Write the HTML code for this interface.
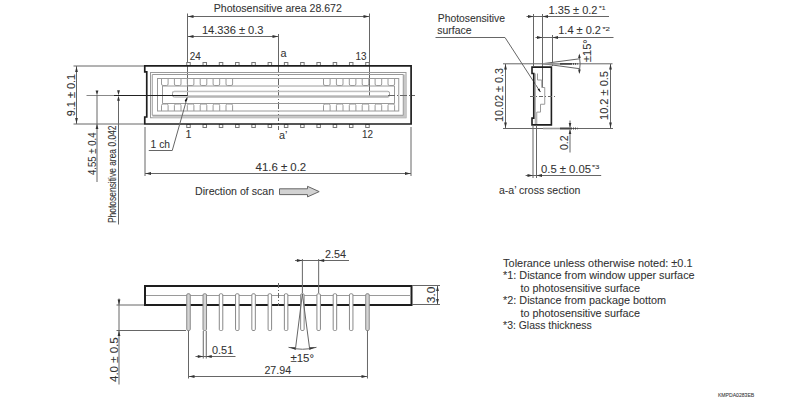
<!DOCTYPE html>
<html><head><meta charset="utf-8">
<style>
html,body{margin:0;padding:0;background:#fff;width:804px;height:400px;overflow:hidden}
svg{display:block}
text{font-family:"Liberation Sans",sans-serif;font-size:10.8px;fill:#333;stroke:#333;stroke-width:0.08px}
.d{stroke:#666;stroke-width:1;fill:none}
.k{stroke:#1e1e1e;stroke-width:2;fill:none}
.g{stroke:#9a9a9a;stroke-width:1;fill:none}
.ah{fill:#333;stroke:none}
</style></head>
<body>
<svg width="804" height="400" viewBox="0 0 804 400">

<text x="213.7" y="11.9" textLength="128.2" lengthAdjust="spacingAndGlyphs">Photosensitive area 28.672</text>
<line class="d" x1="187.5" y1="16.5" x2="369.5" y2="16.5"/>
<polygon points="188,16.5 193.5,15.1 193.5,17.9" class="ah"/>
<polygon points="369,16.5 363.5,15.1 363.5,17.9" class="ah"/>
<text x="201.9" y="34" textLength="61.6" lengthAdjust="spacingAndGlyphs">14.336 ± 0.3</text>
<line class="d" x1="187.5" y1="36.5" x2="278.5" y2="36.5"/>
<polygon points="188,36.5 193.5,35.1 193.5,37.9" class="ah"/>
<polygon points="278,36.5 272.5,35.1 272.5,37.9" class="ah"/>
<line class="d" x1="187.5" y1="13.5" x2="187.5" y2="96"/>
<line class="d" x1="369.5" y1="13.5" x2="369.5" y2="96"/>
<line class="d" x1="278.5" y1="34" x2="278.5" y2="66"/>
<line class="d" x1="278.5" y1="66" x2="278.5" y2="130" stroke-dasharray="7,2,1,2"/>
<text x="189.7" y="59.6" textLength="11" lengthAdjust="spacingAndGlyphs">24</text>
<text x="280.5" y="56.5">a</text>
<text x="355.5" y="59.6" textLength="11" lengthAdjust="spacingAndGlyphs">13</text>
<text x="185.6" y="137.9">1</text>
<text x="279" y="138.5">a’</text>
<text x="362" y="137.6" textLength="11" lengthAdjust="spacingAndGlyphs">12</text>
<rect x="186.75" y="62.5" width="3.5" height="3" fill="#fff" stroke="#777" stroke-width="1"/>
<rect x="186.75" y="124.5" width="3.5" height="3" fill="#fff" stroke="#777" stroke-width="1"/>
<rect x="203.02" y="62.5" width="3.5" height="3" fill="#fff" stroke="#777" stroke-width="1"/>
<rect x="203.02" y="124.5" width="3.5" height="3" fill="#fff" stroke="#777" stroke-width="1"/>
<rect x="219.29" y="62.5" width="3.5" height="3" fill="#fff" stroke="#777" stroke-width="1"/>
<rect x="219.29" y="124.5" width="3.5" height="3" fill="#fff" stroke="#777" stroke-width="1"/>
<rect x="235.56" y="62.5" width="3.5" height="3" fill="#fff" stroke="#777" stroke-width="1"/>
<rect x="235.56" y="124.5" width="3.5" height="3" fill="#fff" stroke="#777" stroke-width="1"/>
<rect x="251.83" y="62.5" width="3.5" height="3" fill="#fff" stroke="#777" stroke-width="1"/>
<rect x="251.83" y="124.5" width="3.5" height="3" fill="#fff" stroke="#777" stroke-width="1"/>
<rect x="268.10" y="62.5" width="3.5" height="3" fill="#fff" stroke="#777" stroke-width="1"/>
<rect x="268.10" y="124.5" width="3.5" height="3" fill="#fff" stroke="#777" stroke-width="1"/>
<rect x="284.37" y="62.5" width="3.5" height="3" fill="#fff" stroke="#777" stroke-width="1"/>
<rect x="284.37" y="124.5" width="3.5" height="3" fill="#fff" stroke="#777" stroke-width="1"/>
<rect x="300.64" y="62.5" width="3.5" height="3" fill="#fff" stroke="#777" stroke-width="1"/>
<rect x="300.64" y="124.5" width="3.5" height="3" fill="#fff" stroke="#777" stroke-width="1"/>
<rect x="316.91" y="62.5" width="3.5" height="3" fill="#fff" stroke="#777" stroke-width="1"/>
<rect x="316.91" y="124.5" width="3.5" height="3" fill="#fff" stroke="#777" stroke-width="1"/>
<rect x="333.18" y="62.5" width="3.5" height="3" fill="#fff" stroke="#777" stroke-width="1"/>
<rect x="333.18" y="124.5" width="3.5" height="3" fill="#fff" stroke="#777" stroke-width="1"/>
<rect x="349.45" y="62.5" width="3.5" height="3" fill="#fff" stroke="#777" stroke-width="1"/>
<rect x="349.45" y="124.5" width="3.5" height="3" fill="#fff" stroke="#777" stroke-width="1"/>
<rect x="365.72" y="62.5" width="3.5" height="3" fill="#fff" stroke="#777" stroke-width="1"/>
<rect x="365.72" y="124.5" width="3.5" height="3" fill="#fff" stroke="#777" stroke-width="1"/>
<rect x="150.5" y="72.5" width="255.5" height="45.25" class="g"/>
<path d="M403.25,74.5 H406 V117.75 H152.5 V115 H403.25 Z" fill="#c8c8c8"/>
<path class="g" d="M152.25,115.25 V74.5 H403.25 V115.25 Z"/>
<rect x="157.5" y="78.5" width="241.25" height="32.5" class="g"/>
<path class="g" d="M162.5,86 V103.5 H394.5 M162.5,86 H394.5"/>
<path class="g" d="M161.50,78.5 V84 Q161.50,85.5 163.00,85.5 H166.60 Q168.10,85.5 168.10,84 V78.5"/>
<path class="g" d="M161.50,111 V105.5 Q161.50,104 163.00,104 H166.60 Q168.10,104 168.10,105.5 V111"/>
<path class="g" d="M174.40,78.5 V84 Q174.40,85.5 175.90,85.5 H179.50 Q181.00,85.5 181.00,84 V78.5"/>
<path class="g" d="M174.40,111 V105.5 Q174.40,104 175.90,104 H179.50 Q181.00,104 181.00,105.5 V111"/>
<path class="g" d="M187.30,78.5 V84 Q187.30,85.5 188.80,85.5 H192.40 Q193.90,85.5 193.90,84 V78.5"/>
<path class="g" d="M187.30,111 V105.5 Q187.30,104 188.80,104 H192.40 Q193.90,104 193.90,105.5 V111"/>
<path class="g" d="M200.20,78.5 V84 Q200.20,85.5 201.70,85.5 H205.30 Q206.80,85.5 206.80,84 V78.5"/>
<path class="g" d="M200.20,111 V105.5 Q200.20,104 201.70,104 H205.30 Q206.80,104 206.80,105.5 V111"/>
<path class="g" d="M213.10,78.5 V84 Q213.10,85.5 214.60,85.5 H218.20 Q219.70,85.5 219.70,84 V78.5"/>
<path class="g" d="M213.10,111 V105.5 Q213.10,104 214.60,104 H218.20 Q219.70,104 219.70,105.5 V111"/>
<path class="g" d="M226.00,78.5 V84 Q226.00,85.5 227.50,85.5 H231.10 Q232.60,85.5 232.60,84 V78.5"/>
<path class="g" d="M226.00,111 V105.5 Q226.00,104 227.50,104 H231.10 Q232.60,104 232.60,105.5 V111"/>
<path class="g" d="M323.50,78.5 V84 Q323.50,85.5 325.00,85.5 H328.60 Q330.10,85.5 330.10,84 V78.5"/>
<path class="g" d="M323.50,111 V105.5 Q323.50,104 325.00,104 H328.60 Q330.10,104 330.10,105.5 V111"/>
<path class="g" d="M336.40,78.5 V84 Q336.40,85.5 337.90,85.5 H341.50 Q343.00,85.5 343.00,84 V78.5"/>
<path class="g" d="M336.40,111 V105.5 Q336.40,104 337.90,104 H341.50 Q343.00,104 343.00,105.5 V111"/>
<path class="g" d="M349.30,78.5 V84 Q349.30,85.5 350.80,85.5 H354.40 Q355.90,85.5 355.90,84 V78.5"/>
<path class="g" d="M349.30,111 V105.5 Q349.30,104 350.80,104 H354.40 Q355.90,104 355.90,105.5 V111"/>
<path class="g" d="M362.20,78.5 V84 Q362.20,85.5 363.70,85.5 H367.30 Q368.80,85.5 368.80,84 V78.5"/>
<path class="g" d="M362.20,111 V105.5 Q362.20,104 363.70,104 H367.30 Q368.80,104 368.80,105.5 V111"/>
<path class="g" d="M375.10,78.5 V84 Q375.10,85.5 376.60,85.5 H380.20 Q381.70,85.5 381.70,84 V78.5"/>
<path class="g" d="M375.10,111 V105.5 Q375.10,104 376.60,104 H380.20 Q381.70,104 381.70,105.5 V111"/>
<path class="g" d="M388.00,78.5 V84 Q388.00,85.5 389.50,85.5 H393.10 Q394.60,85.5 394.60,84 V78.5"/>
<path class="g" d="M388.00,111 V105.5 Q388.00,104 389.50,104 H393.10 Q394.60,104 394.60,105.5 V111"/>
<line class="g" x1="394.5" y1="86" x2="394.5" y2="103.5"/>
<path class="g" d="M388,91.3 H174.5 Q172.5,91.3 172.5,93.3 V95.5 Q172.5,97 174.5,97 H388 Q389.5,97 389.5,95 V93.3 Q389.5,91.3 388,91.3"/>
<rect x="187.5" y="95.3" width="201" height="2" fill="#b5b5b5"/>
<rect x="172.5" y="91" width="216" height="1.2" fill="#c0c0c0"/>
<path class="k" style="stroke-width:1.7" d="M144.75,65.9 H411.1 V124 H144.75 V117 H146.75 V71.9 H144.75 Z"/>
<line class="d" x1="86.5" y1="95.5" x2="114" y2="95.5" style="stroke:#888"/>
<line class="d" x1="114" y1="95.5" x2="187.5" y2="95.5" style="stroke:#222"/>
<line class="d" x1="388" y1="95.5" x2="415" y2="95.5" stroke-dasharray="7,2,1,2"/>
<line class="d" x1="73.5" y1="66" x2="144" y2="66"/>
<line class="d" x1="73.5" y1="124" x2="144" y2="124"/>
<line class="d" x1="76.5" y1="66" x2="76.5" y2="124"/>
<polygon points="76.5,66.5 75.1,72.0 77.9,72.0" class="ah"/>
<polygon points="76.5,123.5 75.1,118.0 77.9,118.0" class="ah"/>
<text transform="translate(74.5,116.3) rotate(-90)" textLength="42.5" lengthAdjust="spacingAndGlyphs">9.1 ± 0.1</text>
<line class="d" x1="97" y1="95" x2="97" y2="182"/>
<polygon points="97,95.5 95.6,90.5 98.4,90.5" class="ah"/>
<polygon points="97,124 95.6,129 98.4,129" class="ah"/>
<text transform="translate(95.6,175) rotate(-90)" textLength="42.6" lengthAdjust="spacingAndGlyphs">4.55 ± 0.4</text>
<line class="d" x1="118.5" y1="100" x2="118.5" y2="224.5"/>
<polygon points="118.5,95.3 117.1,90.3 119.9,90.3" class="ah"/>
<polygon points="118.5,95.7 117.1,100.7 119.9,100.7" class="ah"/>
<text transform="translate(116.3,223) rotate(-90)" textLength="97.5" lengthAdjust="spacingAndGlyphs">Photosensitive area 0.042</text>
<polyline class="d" points="148.75,150.5 172.25,150.5 187.3,97.3"/>
<path d="M187.2,97.5 L187.2,100 L185.2,102 L184.8,100.2 Z" fill="#111"/>
<text x="150.6" y="147.75" textLength="19.4" lengthAdjust="spacingAndGlyphs">1 ch</text>
<line class="d" x1="145" y1="127" x2="145" y2="176"/>
<line class="d" x1="411" y1="127" x2="411" y2="176"/>
<line class="d" x1="145" y1="173.5" x2="411" y2="173.5"/>
<polygon points="145.5,173.5 151.0,172.1 151.0,174.9" class="ah"/>
<polygon points="410.5,173.5 405.0,172.1 405.0,174.9" class="ah"/>
<text x="255.6" y="170.75" textLength="50.6" lengthAdjust="spacingAndGlyphs">41.6 ± 0.2</text>
<text x="195.1" y="194.6" textLength="79.1" lengthAdjust="spacingAndGlyphs">Direction of scan</text>
<path d="M279.5,188.8 H307.5 V186.3 L319.2,191.6 L307.5,196.9 V194.6 H279.5 Z" fill="#d2d2d2" stroke="#666" stroke-width="1"/>
<text x="437.75" y="21.5" textLength="67.25" lengthAdjust="spacingAndGlyphs">Photosensitive</text>
<text x="437.25" y="34" textLength="34.25" lengthAdjust="spacingAndGlyphs">surface</text>
<polyline class="d" points="435.5,37.5 505,37.5 540.3,91.9"/>
<path d="M540.6,92.3 L537.6,89.6 L539.4,88.4 Z" fill="#111"/>
<line class="d" x1="533.5" y1="14" x2="533.5" y2="66"/>
<line class="d" x1="542.5" y1="14" x2="542.5" y2="87.5"/>
<line class="d" x1="552.5" y1="35" x2="552.5" y2="66"/>
<line class="d" x1="526.5" y1="16.5" x2="609" y2="16.5"/>
<polygon points="533.5,16.5 528.0,15.1 528.0,17.9" class="ah"/>
<polygon points="542.5,16.5 548.0,15.1 548.0,17.9" class="ah"/>
<text x="548.6" y="13.65" textLength="48.9" lengthAdjust="spacingAndGlyphs">1.35 ± 0.2</text>
<text x="599" y="10.3" textLength="6.5" lengthAdjust="spacingAndGlyphs" style="font-size:6.2px">*1</text>
<line class="d" x1="535.5" y1="37.5" x2="613.5" y2="37.5"/>
<polygon points="542.5,37.5 537.0,36.1 537.0,38.9" class="ah"/>
<polygon points="552.5,37.5 558.0,36.1 558.0,38.9" class="ah"/>
<text x="558.25" y="34.1" textLength="42.75" lengthAdjust="spacingAndGlyphs">1.4 ± 0.2</text>
<text x="602.5" y="31.1" textLength="7.5" lengthAdjust="spacingAndGlyphs" style="font-size:6.2px">*2</text>
<line class="d" x1="503" y1="63.8" x2="612.5" y2="63.8"/>
<line class="d" x1="503" y1="128.5" x2="613" y2="128.5"/>
<line class="d" x1="505.5" y1="64" x2="505.5" y2="128"/>
<polygon points="505.5,64 504.1,69.5 506.9,69.5" class="ah"/>
<polygon points="505.5,128 504.1,122.5 506.9,122.5" class="ah"/>
<text transform="translate(503,122) rotate(-90)" textLength="54" lengthAdjust="spacingAndGlyphs">10.02 ± 0.3</text>
<line class="d" x1="610.5" y1="64" x2="610.5" y2="128"/>
<polygon points="610.5,64 609.1,69.5 611.9,69.5" class="ah"/>
<polygon points="610.5,128 609.1,122.5 611.9,122.5" class="ah"/>
<text transform="translate(608,120) rotate(-90)" textLength="49" lengthAdjust="spacingAndGlyphs">10.2 ± 0.5</text>
<path class="g" d="M537.5,73.5 V80 H541.75 V87.5 H544.75 V104.25 H540.5 V112.1 H536.75 V124"/>
<line class="g" x1="535.25" y1="73.5" x2="535.25" y2="124"/>
<path class="k" style="stroke-width:1.6" d="M532,67.1 H551.4 V124.9 H532 V118.1 H533.75 V73.5 H532 Z"/>
<line class="d" x1="530" y1="96.5" x2="556" y2="96.5" stroke-dasharray="4,2,1,2"/>
<polyline class="d" points="579.5,58.8 542.5,63.7 579.5,68.7"/>
<line x1="543" y1="63.8" x2="560" y2="63.8" stroke="#999" stroke-width="1.6"/>
<line x1="560" y1="63.8" x2="577.5" y2="63.8" stroke="#444" stroke-width="1.8" stroke-dasharray="12,1,1,1,1,1"/>
<path class="d" d="M579.3,55 Q581,63.8 579.3,72.5"/>
<polygon points="579.4,53.5 578.1,58.0 580.6999999999999,58.0" class="ah"/>
<polygon points="579.4,74 578.1,69.5 580.6999999999999,69.5" class="ah"/>
<text transform="translate(590.5,62) rotate(-90)" textLength="22.7" lengthAdjust="spacingAndGlyphs">±15°</text>
<line x1="543" y1="128.5" x2="560" y2="128.5" stroke="#999" stroke-width="1.6"/>
<line x1="560" y1="128.5" x2="577.5" y2="128.5" stroke="#444" stroke-width="1.8" stroke-dasharray="12,1,1,1,1,1"/>
<line class="d" x1="570" y1="120.5" x2="570" y2="127.5"/>
<polygon points="570,127.5 568.7,123.0 571.3,123.0" class="ah"/>
<line class="d" x1="570" y1="129.5" x2="570" y2="152.5"/>
<polygon points="570,129.5 568.7,134.0 571.3,134.0" class="ah"/>
<text transform="translate(567.5,150) rotate(-90)" textLength="14.5" lengthAdjust="spacingAndGlyphs">0.2</text>
<line class="d" x1="533" y1="125" x2="533" y2="178"/>
<line class="d" x1="536.5" y1="125" x2="536.5" y2="178"/>
<line class="d" x1="525.6" y1="175.5" x2="601.2" y2="175.5"/>
<polygon points="533,175.5 527.5,174.1 527.5,176.9" class="ah"/>
<polygon points="536.5,175.5 542.0,174.1 542.0,176.9" class="ah"/>
<text x="541" y="172.7" textLength="50" lengthAdjust="spacingAndGlyphs">0.5 ± 0.05</text>
<text x="591.9" y="169.2" textLength="7.5" lengthAdjust="spacingAndGlyphs" style="font-size:6.2px">*3</text>
<text x="499" y="194" textLength="81.4" lengthAdjust="spacingAndGlyphs">a-a’ cross section</text>
<rect x="145" y="286" width="266.5" height="19" class="k"/>
<line class="g" x1="146" y1="295.5" x2="410.5" y2="295.5"/>
<rect x="186.75" y="293.75" width="3.5" height="36.75" rx="1.2" fill="#d4d4d4" stroke="#888" stroke-width="1"/>
<rect x="203.02" y="293.75" width="3.5" height="36.75" rx="1.2" fill="#d4d4d4" stroke="#888" stroke-width="1"/>
<rect x="219.29" y="293.75" width="3.5" height="36.75" rx="1.2" fill="#fff" stroke="#888" stroke-width="1"/>
<rect x="235.56" y="293.75" width="3.5" height="36.75" rx="1.2" fill="#fff" stroke="#888" stroke-width="1"/>
<rect x="251.83" y="293.75" width="3.5" height="36.75" rx="1.2" fill="#fff" stroke="#888" stroke-width="1"/>
<rect x="268.10" y="293.75" width="3.5" height="36.75" rx="1.2" fill="#fff" stroke="#888" stroke-width="1"/>
<rect x="284.37" y="293.75" width="3.5" height="36.75" rx="1.2" fill="#fff" stroke="#888" stroke-width="1"/>
<rect x="300.64" y="293.75" width="3.5" height="36.75" rx="1.2" fill="#fff" stroke="#888" stroke-width="1"/>
<rect x="316.91" y="293.75" width="3.5" height="36.75" rx="1.2" fill="#fff" stroke="#888" stroke-width="1"/>
<rect x="333.18" y="293.75" width="3.5" height="36.75" rx="1.2" fill="#fff" stroke="#888" stroke-width="1"/>
<rect x="349.45" y="293.75" width="3.5" height="36.75" rx="1.2" fill="#fff" stroke="#888" stroke-width="1"/>
<rect x="365.72" y="293.75" width="3.5" height="36.75" rx="1.2" fill="#d4d4d4" stroke="#888" stroke-width="1"/>
<line class="d" x1="278.5" y1="283" x2="278.5" y2="306" stroke-dasharray="5,2,1,2"/>
<line class="d" x1="302.39" y1="259" x2="302.39" y2="293"/>
<line class="d" x1="318.65999999999997" y1="259" x2="318.65999999999997" y2="293"/>
<line class="d" x1="295" y1="260.5" x2="349" y2="260.5"/>
<polygon points="302.39,260.5 296.89,259.1 296.89,261.9" class="ah"/>
<polygon points="318.65999999999997,260.5 324.15999999999997,259.1 324.15999999999997,261.9" class="ah"/>
<text x="325" y="257.6" textLength="21" lengthAdjust="spacingAndGlyphs">2.54</text>
<line class="d" x1="412" y1="285.5" x2="440" y2="285.5"/>
<line class="d" x1="412" y1="304.5" x2="440" y2="304.5"/>
<line class="d" x1="437.5" y1="286" x2="437.5" y2="304"/>
<polygon points="437.5,286 436.1,291 438.9,291" class="ah"/>
<polygon points="437.5,304 436.1,299 438.9,299" class="ah"/>
<text transform="translate(435.4,303.25) rotate(-90)" textLength="16.6" lengthAdjust="spacingAndGlyphs">3.0</text>
<line class="d" x1="116.5" y1="305" x2="144" y2="305"/>
<line class="d" x1="116.5" y1="330.5" x2="186" y2="330.5"/>
<line class="d" x1="119" y1="298.5" x2="119" y2="384.5"/>
<polygon points="119,305 117.6,299.5 120.4,299.5" class="ah"/>
<polygon points="119,330.5 117.6,336.0 120.4,336.0" class="ah"/>
<text transform="translate(117.5,382) rotate(-90)" textLength="44.6" lengthAdjust="spacingAndGlyphs">4.0 ± 0.5</text>
<line class="d" x1="203.27" y1="331" x2="203.27" y2="358.5"/>
<line class="d" x1="206.27" y1="331" x2="206.27" y2="358.5"/>
<line class="d" x1="195.5" y1="356.5" x2="235.5" y2="356.5"/>
<polygon points="203.27,356.5 197.77,355.1 197.77,357.9" class="ah"/>
<polygon points="206.27,356.5 211.77,355.1 211.77,357.9" class="ah"/>
<text x="212" y="353.6" textLength="21.2" lengthAdjust="spacingAndGlyphs">0.51</text>
<line class="d" x1="188.5" y1="331" x2="188.5" y2="378.5"/>
<line class="d" x1="367.47" y1="331" x2="367.47" y2="378.5"/>
<line class="d" x1="188.5" y1="376.5" x2="367.47" y2="376.5"/>
<polygon points="189.0,376.5 194.5,375.1 194.5,377.9" class="ah"/>
<polygon points="366.97,376.5 361.47,375.1 361.47,377.9" class="ah"/>
<text x="264.4" y="373.7" textLength="26.7" lengthAdjust="spacingAndGlyphs">27.94</text>
<polyline class="d" points="295.35,349.8 302.4,294 309.75,349.8"/>
<path class="d" d="M288.5,347.3 Q302.5,351.2 316.5,347.3"/>
<polygon class="ah" points="289.3,347.2 295.3,347.3 295.3,349.8"/>
<polygon class="ah" points="315.7,347.2 309.7,347.3 309.7,349.8"/>
<text x="290.4" y="361.6" textLength="23.6" lengthAdjust="spacingAndGlyphs">±15°</text>
<text x="503.1" y="266.9" textLength="189.4" lengthAdjust="spacingAndGlyphs">Tolerance unless otherwise noted: ±0.1</text>
<text x="503.1" y="279.4" textLength="191.5" lengthAdjust="spacingAndGlyphs">*1: Distance from window upper surface</text>
<text x="520.6" y="291.9" textLength="119.4" lengthAdjust="spacingAndGlyphs">to photosensitive surface</text>
<text x="503.1" y="304.4" textLength="162.9" lengthAdjust="spacingAndGlyphs">*2: Distance from package bottom</text>
<text x="520.6" y="316.9" textLength="119.4" lengthAdjust="spacingAndGlyphs">to photosensitive surface</text>
<text x="503.1" y="329.4" textLength="88.7" lengthAdjust="spacingAndGlyphs">*3: Glass thickness</text>
<text x="717.9" y="397.4" textLength="36.4" lengthAdjust="spacingAndGlyphs" style="font-size:6px">KMPDA0283EB</text>
</svg></body></html>
